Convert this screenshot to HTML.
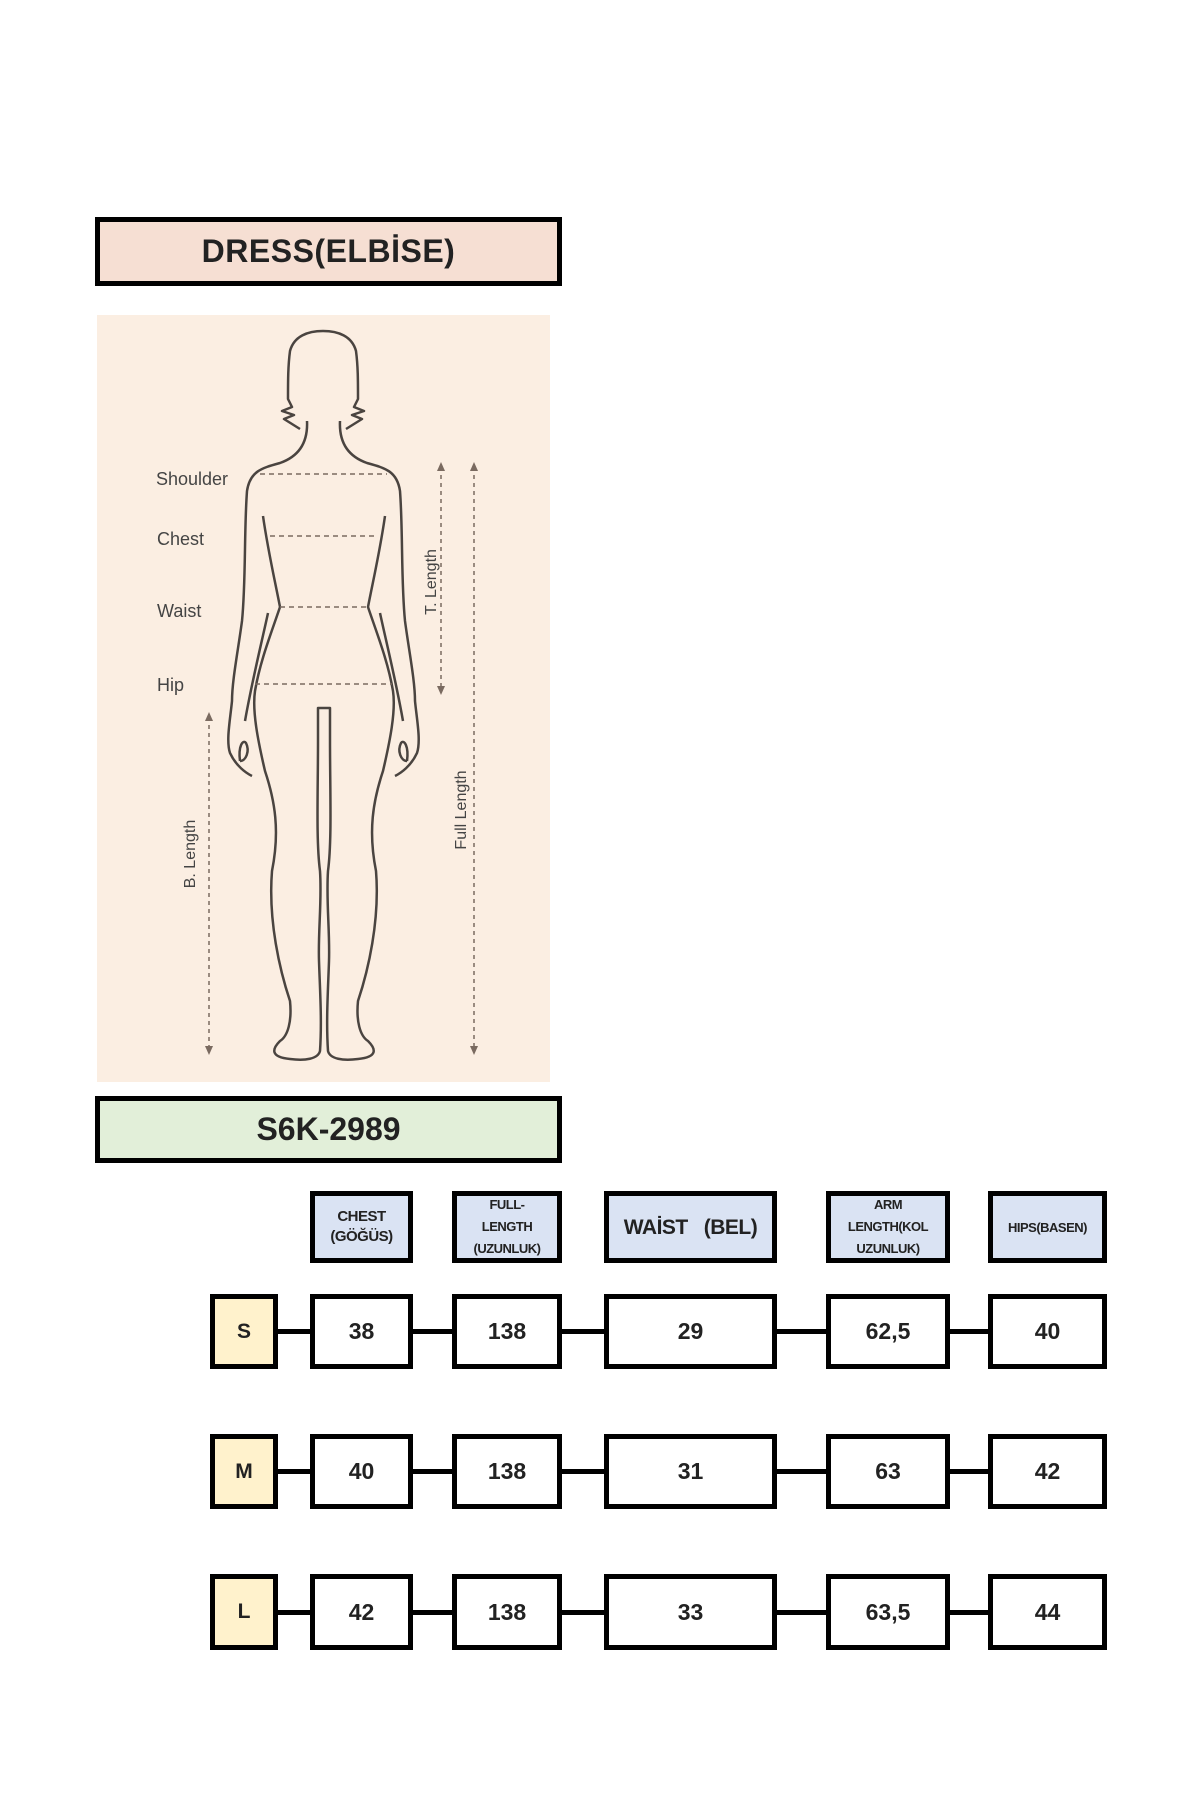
<!DOCTYPE html>
<html><head><meta charset="utf-8"><style>
html,body{margin:0;padding:0;background:#fff;}
#p{position:relative;width:1200px;height:1800px;overflow:hidden;font-family:"Liberation Sans",sans-serif;}
.b{position:absolute;box-sizing:border-box;border:5px solid #000;display:flex;align-items:center;justify-content:center;text-align:center;font-weight:bold;color:#222;overflow:hidden;}
.h{background:#dae3f3;font-size:13px;line-height:15px;letter-spacing:-0.5px;}
.v{background:#fff;font-size:23px;}
.s{background:#fff2cc;font-size:21px;}
.c{position:absolute;height:5px;background:#000;}
</style></head><body><div id="p">
<div class="b" style="left:95px;top:217px;width:467px;height:69px;background:#f6dfd3;font-size:32px;letter-spacing:0.5px;">DRESS(ELBİSE)</div>
<div style="position:absolute;left:97px;top:315px;width:453px;height:767px;background:#fbeee2;"></div>
<svg style="position:absolute;left:0;top:0" width="1200" height="1800" viewBox="0 0 1200 1800">
<g transform="translate(0,1)">
<g fill="none" stroke="#4a4440" stroke-width="2.5" stroke-linejoin="round">
<path d="M300,428 L284,418 L294,414 L282,410 L292,406 L288,398 C288,380 288,365 290,350 C294,335 308,330 323,330 C338,330 352,335 356,350 C358,365 358,380 358,398 L354,406 L364,410 L352,414 L362,418 L346,428"/>
<path d="M307,420 C308,440 300,455 280,462 C262,467 250,470 247,490 C244,530 246,580 242,620 C238,650 232,680 232,700 C230,720 226,740 230,752 C236,765 246,772 252,775"/>
<path d="M340,420 C339,440 347,455 367,462 C385,467 397,470 400,490 C403,530 401,580 405,620 C409,650 415,680 415,700 C417,720 421,740 417,752 C411,765 401,772 395,775"/>
<path d="M240,760 C238,745 243,738 246,742 C250,750 246,760 240,760"/>
<path d="M407,760 C409,745 404,738 401,742 C397,750 401,760 407,760"/>
<path d="M263,515 C268,550 275,580 280,606 C272,630 260,660 255,690 C252,710 258,740 265,770 C275,800 280,830 272,870 C268,920 280,970 290,1000 C292,1020 288,1035 280,1040 C272,1048 270,1056 290,1058 C305,1060 318,1058 320,1050 C322,1020 320,990 319,960 C318,930 322,900 320,870 C316,840 318,790 318,740 L318,707 L330,707 L330,740 C330,790 332,840 328,870 C326,900 330,930 329,960 C328,990 326,1020 328,1050 C330,1058 343,1060 358,1058 C378,1056 376,1048 368,1040 C360,1035 356,1020 358,1000 C368,970 380,920 376,870 C368,830 373,800 383,770 C390,740 396,710 393,690 C388,660 376,630 368,606 C373,580 380,550 385,515"/>
<path d="M268,612 C262,640 252,680 245,720"/>
<path d="M380,612 C386,640 396,680 403,720"/>
</g>
<g stroke="#7a6a60" stroke-width="1.5" stroke-dasharray="5,4">
<line x1="260" y1="473" x2="387" y2="473"/>
<line x1="270" y1="535" x2="377" y2="535"/>
<line x1="280" y1="606" x2="367" y2="606"/>
<line x1="255" y1="683" x2="392" y2="683"/>
</g>
</g>
<g stroke="#7a6a60" stroke-width="1.5" stroke-dasharray="4,4">
<line x1="441" y1="467" x2="441" y2="690"/>
<line x1="474" y1="467" x2="474" y2="1050"/>
<line x1="209" y1="717" x2="209" y2="1050"/>
</g>
<g fill="#7a6a60">
<path d="M437,471 L441,462 L445,471Z"/><path d="M437,686 L441,695 L445,686Z"/>
<path d="M470,471 L474,462 L478,471Z"/><path d="M470,1046 L474,1055 L478,1046Z"/>
<path d="M205,721 L209,712 L213,721Z"/><path d="M205,1046 L209,1055 L213,1046Z"/>
</g>
<g font-family="Liberation Sans,sans-serif" font-size="18" fill="#444">
<text x="156" y="485">Shoulder</text>
<text x="157" y="545">Chest</text>
<text x="157" y="617">Waist</text>
<text x="157" y="691">Hip</text>
<text transform="translate(436,582) rotate(-90)" text-anchor="middle" font-size="16">T. Length</text>
<text transform="translate(466,810) rotate(-90)" text-anchor="middle" font-size="16">Full Length</text>
<text transform="translate(195,854) rotate(-90)" text-anchor="middle" font-size="16">B. Length</text>
</g>
</svg>
<div class="b" style="left:95px;top:1096px;width:467px;height:67px;background:#e2efd9;font-size:32px;">S6K-2989</div>

<div class="b h" style="left:310px;top:1191px;width:103px;height:72px;font-size:15px;line-height:20px;">CHEST<br>(GÖĞÜS)</div>
<div class="b h" style="left:452px;top:1191px;width:110px;height:72px;line-height:22px;">FULL-<br>LENGTH<br>(UZUNLUK)</div>
<div class="b h" style="left:604px;top:1191px;width:173px;height:72px;font-size:21px;">WAİST &nbsp;&nbsp;(BEL)</div>
<div class="b h" style="left:826px;top:1191px;width:124px;height:72px;line-height:22px;">ARM<br>LENGTH(KOL<br>UZUNLUK)</div>
<div class="b h" style="left:988px;top:1191px;width:119px;height:72px;">HIPS(BASEN)</div>

<div class="c" style="left:275px;top:1329px;width:720px;"></div>
<div class="c" style="left:275px;top:1469px;width:720px;"></div>
<div class="c" style="left:275px;top:1610px;width:720px;"></div>

<div class="b s" style="left:210px;top:1294px;width:68px;height:75px;">S</div>
<div class="b v" style="left:310px;top:1294px;width:103px;height:75px;">38</div>
<div class="b v" style="left:452px;top:1294px;width:110px;height:75px;">138</div>
<div class="b v" style="left:604px;top:1294px;width:173px;height:75px;">29</div>
<div class="b v" style="left:826px;top:1294px;width:124px;height:75px;">62,5</div>
<div class="b v" style="left:988px;top:1294px;width:119px;height:75px;">40</div>

<div class="b s" style="left:210px;top:1434px;width:68px;height:75px;">M</div>
<div class="b v" style="left:310px;top:1434px;width:103px;height:75px;">40</div>
<div class="b v" style="left:452px;top:1434px;width:110px;height:75px;">138</div>
<div class="b v" style="left:604px;top:1434px;width:173px;height:75px;">31</div>
<div class="b v" style="left:826px;top:1434px;width:124px;height:75px;">63</div>
<div class="b v" style="left:988px;top:1434px;width:119px;height:75px;">42</div>

<div class="b s" style="left:210px;top:1574px;width:68px;height:76px;">L</div>
<div class="b v" style="left:310px;top:1574px;width:103px;height:76px;">42</div>
<div class="b v" style="left:452px;top:1574px;width:110px;height:76px;">138</div>
<div class="b v" style="left:604px;top:1574px;width:173px;height:76px;">33</div>
<div class="b v" style="left:826px;top:1574px;width:124px;height:76px;">63,5</div>
<div class="b v" style="left:988px;top:1574px;width:119px;height:76px;">44</div>
</div></body></html>
